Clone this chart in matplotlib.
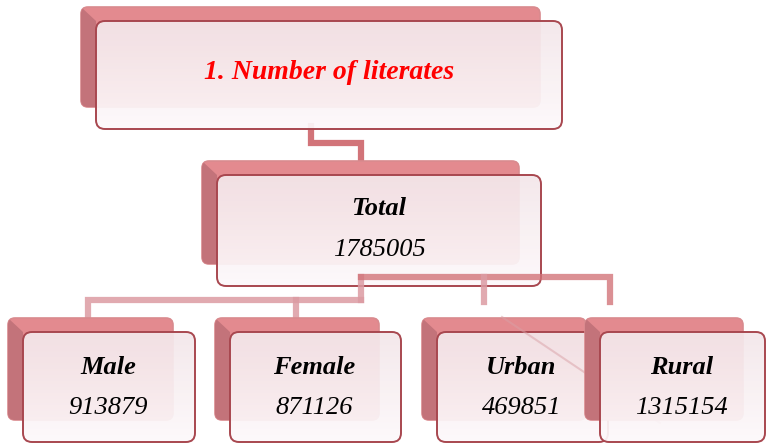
import numpy as np
import matplotlib.pyplot as plt
from matplotlib.colors import LinearSegmentedColormap
from matplotlib.patches import FancyBboxPatch, Polygon

# chart content
title = "1. Number of literates"
total_label = "Total"
total_value = 1785005
child_labels = ["Male", "Female", "Urban", "Rural"]
child_values = [913879, 871126, 469851, 1315154]

# layout in pixels (x0, y0, width, height) of the front card
top_box = (96, 21, 466, 108)
total_box = (217, 175, 324, 111)
child_boxes = [(23, 332, 172, 110), (230, 332, 171, 110),
               (437, 332, 171, 110), (600, 332, 165, 110)]

SHADOW = "#e38a8f"
SHADOW_DARK = "#c3737a"
EDGE = "#a8474f"
LINE_TOP = "#d27479"
LINE_LOW = "#dc9ba3"
FONT = "Liberation Serif"

fig = plt.figure(figsize=(7.67, 4.43), dpi=100)
ax = fig.add_axes([0, 0, 1, 1])
ax.set_xlim(0, 767)
ax.set_ylim(443, 0)
ax.axis("off")

grad = np.linspace(0, 1, 64).reshape(-1, 1)
card_cmap = LinearSegmentedColormap.from_list("card", ["#f4e7ea", "#fdf9fb"])


def draw_card(box, z):
    x0, y0, w, h = box
    # shadow card behind
    sx, sy, sw, sh = x0 - 15, y0 - 14, w - 7, h - 8
    shadow = FancyBboxPatch((sx, sy), sw, sh, boxstyle="round,pad=0,rounding_size=7",
                            fc=SHADOW, ec="#d98a8e", lw=1.2, zorder=z)
    ax.add_patch(shadow)
    bevel = Polygon([(sx, sy), (sx + 15, sy + 14), (sx + 15, sy + sh), (sx, sy + sh)],
                    closed=True, fc=SHADOW_DARK, ec="none", zorder=z + 0.1)
    ax.add_patch(bevel)
    bevel.set_clip_path(shadow)
    # front card with soft gradient
    front = FancyBboxPatch((x0, y0), w, h, boxstyle="round,pad=0,rounding_size=9",
                           fc="none", ec=EDGE, lw=1.4, zorder=z + 0.4)
    ax.add_patch(front)
    img = ax.imshow(grad, extent=(x0, x0 + w, y0 + h, y0), cmap=card_cmap,
                    aspect="auto", alpha=0.93, zorder=z + 0.3)
    img.set_clip_path(front)
    return x0 + w / 2, y0 + h / 2


# connector from title to total
ax.plot([311, 311, 361, 361], [126, 143, 143, 165], color=LINE_TOP, lw=4.5,
        solid_joinstyle="miter", zorder=1)

cx, cy = draw_card(top_box, 2)
ax.text(cx, cy - 3, title, color="#ff0000", fontsize=20, fontweight="bold",
        style="italic", family=FONT, ha="center", va="center", zorder=5)

tx, ty = draw_card(total_box, 2)
ax.text(tx, ty - 22, total_label, fontsize=19, fontweight="bold", style="italic",
        family=FONT, ha="center", va="center", zorder=5)
ax.text(tx, ty + 20, str(total_value), fontsize=19, style="italic",
        family=FONT, ha="center", va="center", zorder=5)

# connectors from total to the children
ax.plot([361, 361], [277, 300], color=LINE_LOW, lw=4.5, alpha=0.85, zorder=6)
ax.plot([88, 88, 361], [317, 300, 300], color=LINE_LOW, lw=4.5, alpha=0.85,
        solid_joinstyle="miter", zorder=6)
ax.plot([296, 296], [300, 316], color=LINE_LOW, lw=4.5, alpha=0.85, zorder=6)
ax.plot([361, 610, 610], [277, 277, 302], color=LINE_TOP, lw=4.5, alpha=0.8,
        solid_joinstyle="miter", zorder=6)
ax.plot([484, 484], [277, 302], color=LINE_LOW, lw=4.5, alpha=0.85, zorder=6)

for i, (lab, val) in enumerate(zip(child_labels, child_values)):
    bx, by = draw_card(child_boxes[i], 10 + i)
    ax.text(bx - 1, by - 20, lab, fontsize=19, fontweight="bold", style="italic",
            family=FONT, ha="center", va="center", zorder=10 + i + 0.6)
    ax.text(bx - 1, by + 21, str(val), fontsize=19, style="italic",
            family=FONT, ha="center", va="center", zorder=10 + i + 0.6)

# faint rendering streak across urban / rural cards
ax.plot([502, 660], [317, 423], color="#d9a0a6", lw=1.5, alpha=0.5, zorder=12.5)

fig.savefig("out.png", dpi=100)
